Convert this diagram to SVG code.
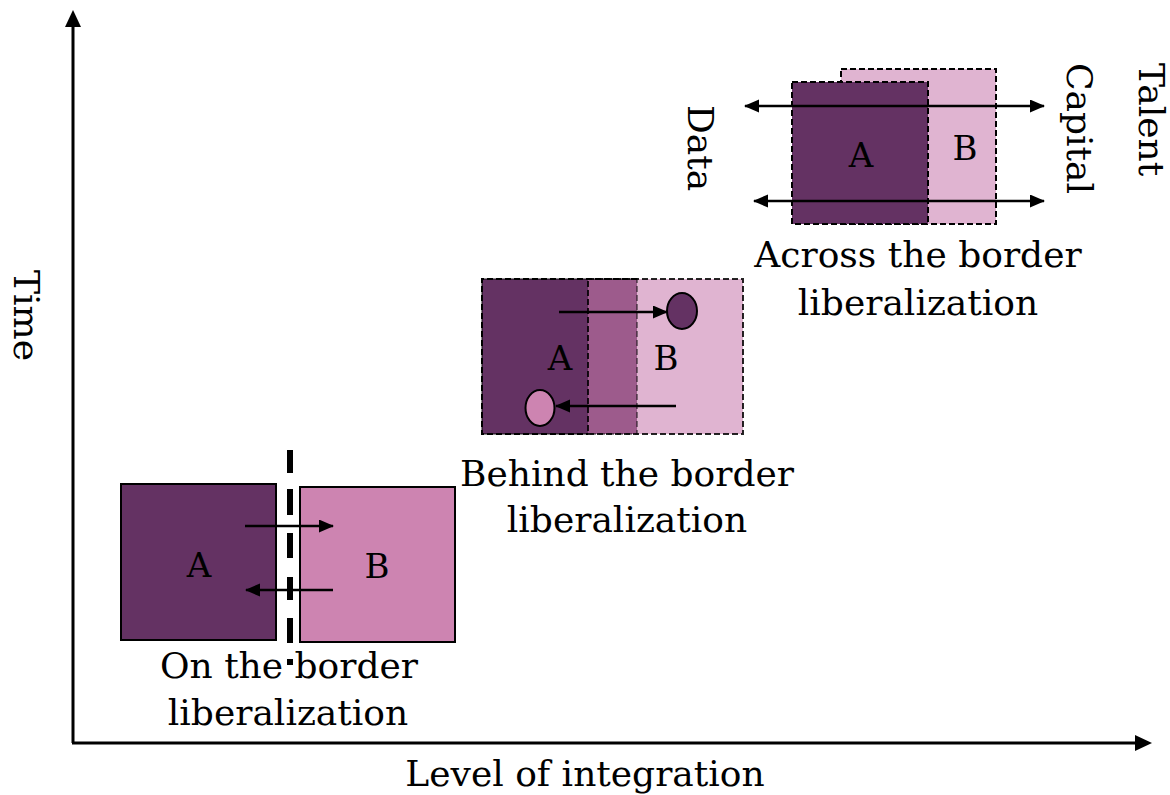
<svg xmlns="http://www.w3.org/2000/svg" width="1170" height="795" viewBox="0 0 1170 795">
<style>
  .lbl { font-family: "DejaVu Serif", "Liberation Serif", serif; font-size: 36px; fill: #000; }
  .mid { text-anchor: middle; }
  .let { font-family: "DejaVu Serif", "Liberation Serif", serif; font-size: 34px; fill: #000; text-anchor: middle; }
  .solid { stroke: #000; stroke-width: 2; }
  .dash { stroke: #000; stroke-width: 2; stroke-dasharray: 6 3; }
  .axis { stroke: #000; stroke-width: 3; fill: none; }
  .arr { stroke: #000; stroke-width: 2.5; fill: none; marker-end: url(#ah); }
  .darr { stroke: #000; stroke-width: 2.5; fill: none; marker-end: url(#ah); marker-start: url(#ah); }
</style>
<defs>
  <marker id="ah" markerUnits="userSpaceOnUse" markerWidth="16" markerHeight="14" refX="14" refY="6.5" orient="auto-start-reverse" viewBox="0 0 16 14">
    <path d="M0,0 L15,6.5 L0,13 Z" fill="#000"/>
  </marker>
</defs>
<rect width="1170" height="795" fill="#fff"/>

<g id="axes">
  <line class="axis" x1="73" y1="743" x2="73" y2="24"/>
  <polygon points="73,10 65,27 81,27" fill="#000"/>
  <line class="axis" x1="72" y1="743" x2="1138" y2="743"/>
  <polygon points="1152,743 1135,735 1135,751" fill="#000"/>
  <text class="lbl" transform="translate(14,270) rotate(90)">Time</text>
  <text class="lbl mid" x="585" y="786">Level of integration</text>
</g>

<g id="on-border">
  <rect id="on-A" x="121" y="484" width="155" height="156" fill="#643263" class="solid"/>
  <rect id="on-B" x="300" y="487" width="155" height="155" fill="#cd84b1" class="solid"/>
  <path id="border-line" d="M290,450V473 M290,489V515 M290,533V558 M290,577V600 M290,618V643 M290,659V665" stroke="#000" stroke-width="6" fill="none"/>
  <text class="let" x="199" y="577">A</text>
  <text class="let" x="377" y="578">B</text>
  <text class="lbl mid" x="289" y="678">On the border</text>
  <text class="lbl mid" x="288" y="725">liberalization</text>
</g>

<g id="behind-border">
  <rect x="482" y="279" width="155" height="155" fill="#643263"/>
  <rect x="588" y="279" width="49" height="155" fill="#9d5b8c"/>
  <rect x="637" y="279" width="106" height="155" fill="#e0b4d1"/>
  <rect id="behind-A" x="482" y="279" width="155" height="155" fill="none" class="dash" stroke-opacity="0.45"/>
  <path d="M637,279 H482 V434 H588" fill="none" class="dash"/>
  <rect id="behind-B" x="588" y="279" width="155" height="155" fill="none" class="dash" stroke-opacity="0.85"/>
  <ellipse cx="682" cy="311" rx="15" ry="18" fill="#643263" class="solid"/>
  <ellipse cx="540" cy="408" rx="14.5" ry="18" fill="#cd84b1" class="solid"/>
  <text class="let" x="560" y="370">A</text>
  <text class="let" x="666" y="370">B</text>
  <text class="lbl mid" x="627" y="486">Behind the border</text>
  <text class="lbl mid" x="627" y="532">liberalization</text>
</g>

<g id="across-border">
  <rect id="across-B" x="841" y="69" width="155" height="155" fill="#e0b4d1" class="dash"/>
  <rect id="across-A" x="792" y="82" width="136" height="142" fill="#643263" class="dash"/>
  <text class="let" x="861" y="167">A</text>
  <text class="let" x="965" y="160">B</text>
  <text class="lbl mid" x="918" y="267">Across the border</text>
  <text class="lbl mid" x="918" y="315">liberalization</text>
  <text class="lbl" transform="translate(688,105) rotate(90)">Data</text>
  <text class="lbl" transform="translate(1067,63) rotate(90)">Capital</text>
  <text class="lbl" transform="translate(1139,63) rotate(90)">Talent</text>
</g>

<g id="connectors">
  <line class="arr" x1="245" y1="526" x2="333" y2="526"/>
  <line class="arr" x1="333" y1="590" x2="246" y2="590"/>
  <line class="arr" x1="559" y1="312" x2="667" y2="312"/>
  <line class="arr" x1="676" y1="406" x2="556" y2="406"/>
  <line class="darr" x1="745" y1="106" x2="1044" y2="106"/>
  <line class="darr" x1="754" y1="201" x2="1044" y2="201"/>
</g>
</svg>
